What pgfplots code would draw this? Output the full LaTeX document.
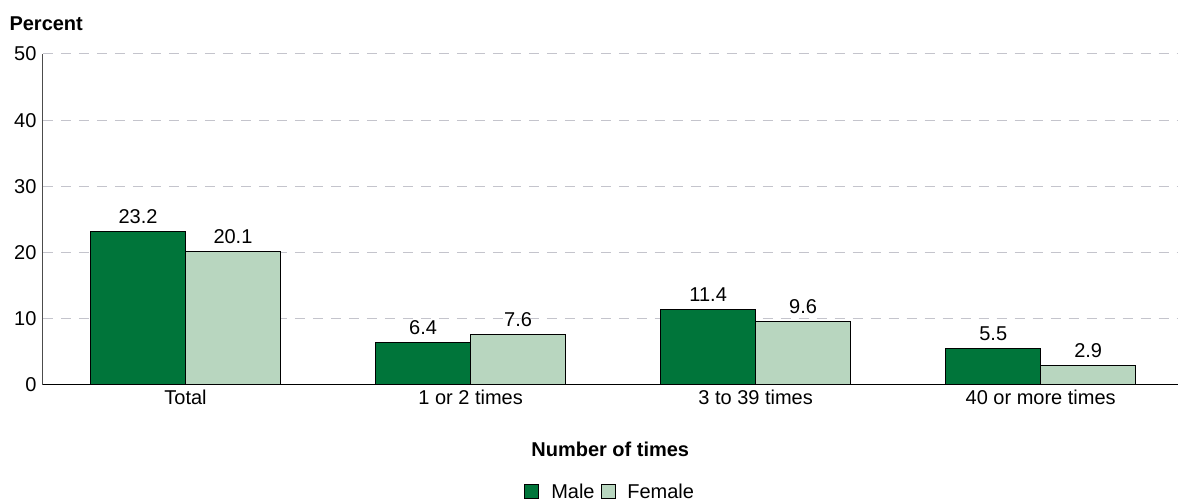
\documentclass[border=0pt]{standalone}
\usepackage{pgfplots}
\pgfplotsset{compat=1.18}
\usepackage{fontspec}
\setmainfont{Liberation Sans}

\definecolor{male}{HTML}{00753A}
\definecolor{female}{HTML}{B8D6BF}
\definecolor{gridgray}{HTML}{C4C4CC}

\newcommand{\chartfont}{\fontsize{20}{24}\selectfont}

\begin{document}
\begin{tikzpicture}
\begin{axis}[
  scale only axis,
  width=1135pt, height=331pt,
  xmin=-0.5, xmax=3.48,
  ymin=0, ymax=50,
  ytick={0,10,20,30,40,50},
  xtick=data,
  xticklabels={Total, 1 or 2 times, 3 to 39 times, 40 or more times},
  major tick length=0pt,
  axis x line*=bottom,
  axis y line*=left,
  x axis line style={black, line width=1pt, -},
  y axis line style={black!70, line width=1pt, -},
  ymajorgrids,
  major grid style={gridgray, line width=1pt, dash pattern=on 10pt off 8pt},
  tick label style={font=\chartfont},
  /pgf/number format/assume math mode=true,
  yticklabel style={xshift=-3pt},
  xticklabel style={yshift=-2pt},
  xlabel={\textbf{Number of times}},
  xlabel style={font=\chartfont, yshift=-30pt},
  ylabel={\textbf{Percent}},
  ylabel style={font=\chartfont, rotate=-90, at={(rel axis cs:0,1)}, anchor=south west, xshift=-37pt, yshift=20pt},
  ybar, bar width=0.333,
  nodes near coords,
  nodes near coords style={font=\chartfont, /pgf/number format/fixed, /pgf/number format/precision=1, /pgf/number format/fixed zerofill, yshift=4pt},
  legend style={at={(0.5,-0.323)}, anchor=center, draw=none, legend columns=2, font=\chartfont,
    /tikz/every even column/.append style={column sep=4pt},
    /tikz/every odd column/.append style={column sep=10pt}},
  legend image code/.code={\draw[#1, draw=black, line width=0.8pt] (0pt,-7pt) rectangle (14pt,7pt);},
]
\addplot[fill=male, draw=black, line width=1pt, bar shift=-0.1665] coordinates {(0,23.2) (1,6.4) (2,11.4) (3,5.5)};
\addplot[fill=female, draw=black, line width=1pt, bar shift=0.1665] coordinates {(0,20.1) (1,7.6) (2,9.6) (3,2.9)};
\legend{Male, Female}
\end{axis}
\path ([xshift=-43pt,yshift=-119pt]current axis.south west) rectangle ([yshift=54pt]current axis.north east);
\end{tikzpicture}
\end{document}
